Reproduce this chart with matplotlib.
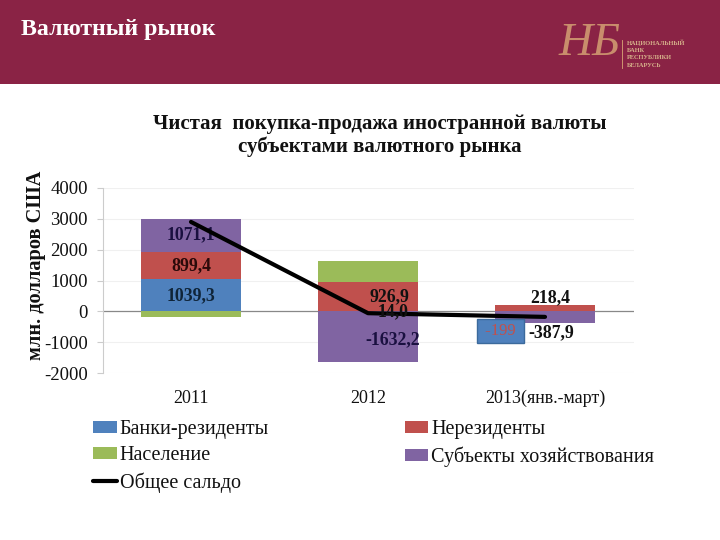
import numpy as np
import matplotlib
matplotlib.use("Agg")
import matplotlib.pyplot as plt
from matplotlib.patches import Rectangle

plt.rcParams['font.family'] = ['Liberation Serif', 'DejaVu Serif']
plt.rcParams['axes.unicode_minus'] = False

categories = ['2011', '2012', '2013(янв.-март)']
banks = [1039.3, 14.0, 0.0]
nonres = [899.4, 926.9, 218.4]
population = [-180.0, 690.0, 0.0]
entities = [1071.1, -1632.2, -387.9]
total = [2900.0, -60.0, -180.0]
banks_2013_label = '-199'
y_ticks = [-2000, -1000, 0, 1000, 2000, 3000, 4000]

C_BANK, C_NON, C_POP, C_ENT = '#4f81bd', '#c0504d', '#9bbb59', '#8064a2'
W, H = 720, 540


def fx(p):
    return p / W


def fy(p):
    return 1 - p / H


fig = plt.figure(figsize=(7.2, 5.4), dpi=100, facecolor='white')

# header band
fig.patches.append(Rectangle((0, fy(84)), 1, 84 / H, transform=fig.transFigure,
                             facecolor='#8a2345', edgecolor='none'))
fig.text(fx(21), fy(30), 'Валютный рынок', color='white', fontsize=17.2, fontweight='bold',
         va='center', ha='left')
# logo
fig.text(fx(590), fy(44), 'НБ', color='#d9a877', fontsize=34, style='italic',
         ha='center', va='center', alpha=.8)
fig.add_artist(plt.Line2D([fx(622), fx(622)], [fy(40), fy(68)], color='#d9a877', lw=.6))
for i, s in enumerate(['НАЦИОНАЛЬНЫЙ', 'БАНК', 'РЕСПУБЛИКИ', 'БЕЛАРУСЬ']):
    fig.text(fx(627), fy(42.5 + i * 7.7), s, color='#d8b48c', fontsize=4.6,
             ha='left', va='center', fontweight='bold')

ax = fig.add_axes([fx(102.5), fy(373), 531 / W, 185 / H])
x = np.arange(3)
bw = 100 / 177


def stacked(series):
    pos, neg = np.zeros(3), np.zeros(3)
    for vals, col, lab in series:
        vals = np.array(vals)
        bottoms = np.where(vals >= 0, pos, neg)
        ax.bar(x, vals, bw, bottom=bottoms, color=col, label=lab, zorder=2)
        pos += np.where(vals >= 0, vals, 0)
        neg += np.where(vals < 0, vals, 0)


stacked([(banks, C_BANK, 'Банки-резиденты'),
         (nonres, C_NON, 'Нерезиденты'),
         (population, C_POP, 'Население'),
         (entities, C_ENT, 'Субъекты хозяйствования')])
ax.plot(x, total, color='black', lw=3, label='Общее сальдо', zorder=3, solid_capstyle='round')

ax.set_xlim(-0.5, 2.5)
ax.set_ylim(-2000, 4000)
ax.set_yticks(y_ticks)
ax.set_xticks(x)
ax.set_xticklabels(categories)
ax.tick_params(axis='y', labelsize=13.5, length=4, pad=6.5, colors='#111111')
ax.tick_params(axis='x', labelsize=13, length=0, pad=12, colors='#111111')
ax.tick_params(axis='y', color='#cccccc')
ax.grid(axis='y', color='#f0f0f0', lw=.8, zorder=0)
ax.set_axisbelow(True)
for s in ['top', 'right', 'bottom']:
    ax.spines[s].set_visible(False)
ax.spines['left'].set_color('#cccccc')
ax.axhline(0, color='#888888', lw=.9, zorder=1)


def lab(text, xi, yv, dx=0, dy=0, **kw):
    ax.annotate(text, (xi, yv), xytext=(dx * .72, -dy * .72), textcoords='offset points',
                ha='center', va='center', fontsize=kw.pop('fontsize', 12.8), fontweight='bold',
                color=kw.pop('color', '#111111'), zorder=kw.pop('zorder', 4), **kw)


def fmt(v):
    return f'{v:.1f}'.replace('.', ',')


lab(fmt(entities[0]), 0, banks[0] + nonres[0] + entities[0] / 2, color='#1a1040', zorder=2.5)
lab(fmt(nonres[0]), 0, banks[0] + nonres[0] / 2, color='#2a0a0a')
lab(fmt(banks[0]), 0, banks[0] / 2, color='#0f2438')
lab(fmt(nonres[1]), 1, banks[1] + nonres[1] / 2, dx=21)
lab(fmt(banks[1]), 1, banks[1], dx=25, dy=1)
lab(fmt(entities[1]), 1, entities[1] / 2, dx=25, dy=3, color='#1a1040')
lab(fmt(nonres[2]), 2, nonres[2] / 2, dx=5, dy=-10)
lab(fmt(entities[2]), 2, entities[2], dx=6, dy=9)
ax.annotate(f' {banks_2013_label} ', (2, entities[2]), xytext=(-44.5 * .72, -8 * .72),
            textcoords='offset points', ha='center', va='center', fontsize=12,
            color='#c0504d', zorder=5,
            bbox=dict(boxstyle='square,pad=0.25', facecolor=C_BANK, edgecolor='#3b6a9c', lw=1))

fig.text(fx(36), fy(265), 'млн. долларов США', rotation=90, fontsize=14.7, fontweight='bold',
         ha='center', va='center', color='#111111')
fig.text(fx(380), fy(135.5), 'Чистая  покупка-продажа иностранной валюты\nсубъектами валютного рынка',
         fontsize=15, fontweight='bold', ha='center', va='center', linespacing=1.2, color='#111111')

h, l = ax.get_legend_handles_labels()
d = dict(zip(l, h))
order = ['Банки-резиденты', 'Население', 'Общее сальдо', 'Нерезиденты', 'Субъекты хозяйствования']
fig.legend([d[k] for k in order], order, ncol=2, frameon=False, fontsize=14.5,
           loc='upper left', bbox_to_anchor=(fx(93), fy(420)), labelcolor='#111111',
           handlelength=1.17, handleheight=.55, handletextpad=.15, columnspacing=6.75,
           labelspacing=.36, borderpad=0, borderaxespad=0)

fig.savefig('out.png', dpi=100)
